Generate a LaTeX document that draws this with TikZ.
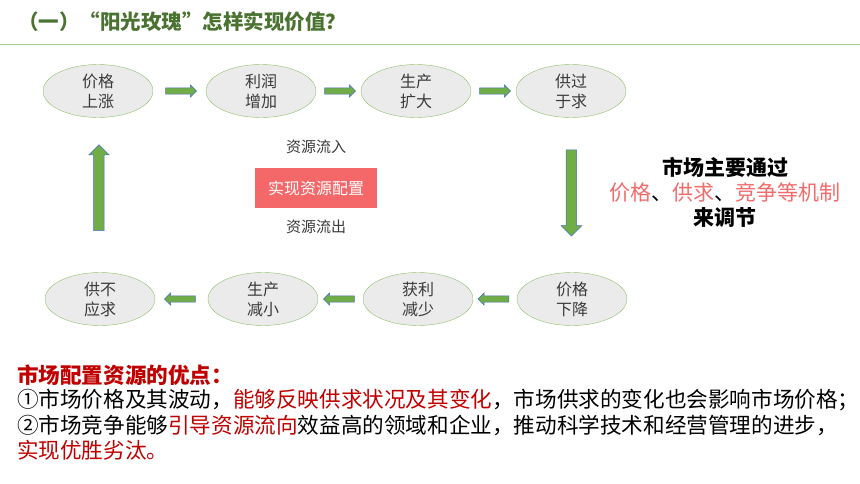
\documentclass[tikz,border=0pt]{standalone}
\usepackage{fontspec}
\setmainfont{Noto Sans CJK SC}
\usepackage{tikz}
\usetikzlibrary{arrows.meta}
\usetikzlibrary{shapes}
\usetikzlibrary{positioning}

\definecolor{titlegreen}{HTML}{4A7230}
\definecolor{linegreen}{HTML}{A9D18E}
\definecolor{ovalgreen}{HTML}{8FC06A}
\definecolor{ovalgray}{HTML}{EBEBEB}
\definecolor{arrowgreen}{HTML}{70AD47}
\definecolor{arrowblue}{HTML}{4472C4}
\definecolor{boxred}{HTML}{F4686A}
\definecolor{softred}{HTML}{F26B6B}
\definecolor{darkred}{HTML}{C00000}
\definecolor{textgray}{HTML}{3A3A3A}

\begin{document}
\begin{tikzpicture}[x=1pt,y=-1pt]
            \tikzset{every node/.style={inner sep=0pt},
                    oval/.style={ellipse, draw=ovalgreen, fill=ovalgray, minimum width=110pt, minimum height=53pt, align=center, text=textgray, font=\fontsize{16}{20}\selectfont},
                    fatarrow/.style={single arrow, draw=arrowblue, fill=arrowgreen, line width=0.5pt},
                    fatright/.style={fatarrow, inner sep=2.8pt, single arrow head extend=3pt, minimum height=31pt},
                    fatleft/.style={fatright, shape border rotate=180},
                    fatdown/.style={fatarrow, inner sep=5pt, single arrow head extend=5pt, minimum height=86pt, shape border rotate=270},
                    fatup/.style={fatdown, shape border rotate=90},
                    small/.style={font=\fontsize{15}{18}\selectfont, text=textgray},
                    body/.style={anchor=west, font=\fontsize{21.6}{25}\selectfont}}
            \useasboundingbox (0,0) rectangle (860,484);
            \node[anchor=west, text=titlegreen, font=\fontsize{20.5}{24}\selectfont\bfseries] (title) at (18,22) {（一）“阳光玫瑰”怎样实现价值？};
            \draw[linegreen, line width=1pt] (0,45) -- (860,45);
            \node[oval] (1) at (98,91) {价格\\上涨};
            \node[oval] (2) at (261,91) {利润\\增加};
            \node[oval] (3) at (416,91) {生产\\扩大};
            \node[oval] (4) at (571,91) {供过\\于求};
            \node[oval] (5) at (572,299) {价格\\下降};
            \node[oval] (6) at (418,299) {获利\\减少};
            \node[oval] (7) at (263,299) {生产\\减小};
            \node[oval] (8) at (100,299) {供不\\应求};
            \path (1) -- node[fatright] {} (2);
            \path (2) -- node[fatright] {} (3);
            \path (3) -- node[fatright] {} (4);
            \path (4) -- node[fatdown, pos=.47] {} (5);
            \path (5) -- node[fatleft] {} (6);
            \path (6) -- node[fatleft] {} (7);
            \path (7) -- node[fatleft] {} (8);
            \path (8) -- node[fatup, pos=.53] {} (1);
            \node[rectangle, fill=boxred, minimum width=122pt, minimum height=40pt, text=white, font=\fontsize{16}{20}\selectfont] (box) at (316,188) {实现资源配置};
            \node[small] (in) at (316,147) {资源流入};
            \node[small] (out) at (316,227) {资源流出};
            \node[align=center, font=\fontsize{21}{25}\selectfont] (mech) at (725,192) {\textbf{市场主要通过}\\{\color{softred}价格}、{\color{softred}供求}、{\color{softred}竞争等机制}\\\textbf{来调节}};
            \node[body, text=darkred, font=\fontsize{21.6}{25}\selectfont\bfseries] (head) at (17,375) {市场配置资源的优点：};
            \node[body] (p1) at (17,400) {①市场价格及其波动，{\color{darkred}能够反映供求状况及其变化}，市场供求的变化也会影响市场价格；};
            \node[body] (p2) at (17,425) {②市场竞争能够{\color{darkred}引导资源流向}效益高的领域和企业，推动科学技术和经营管理的进步，};
            \node[body, text=darkred] (p3) at (17,450) {实现优胜劣汰。};
        \end{tikzpicture}
\end{document}
